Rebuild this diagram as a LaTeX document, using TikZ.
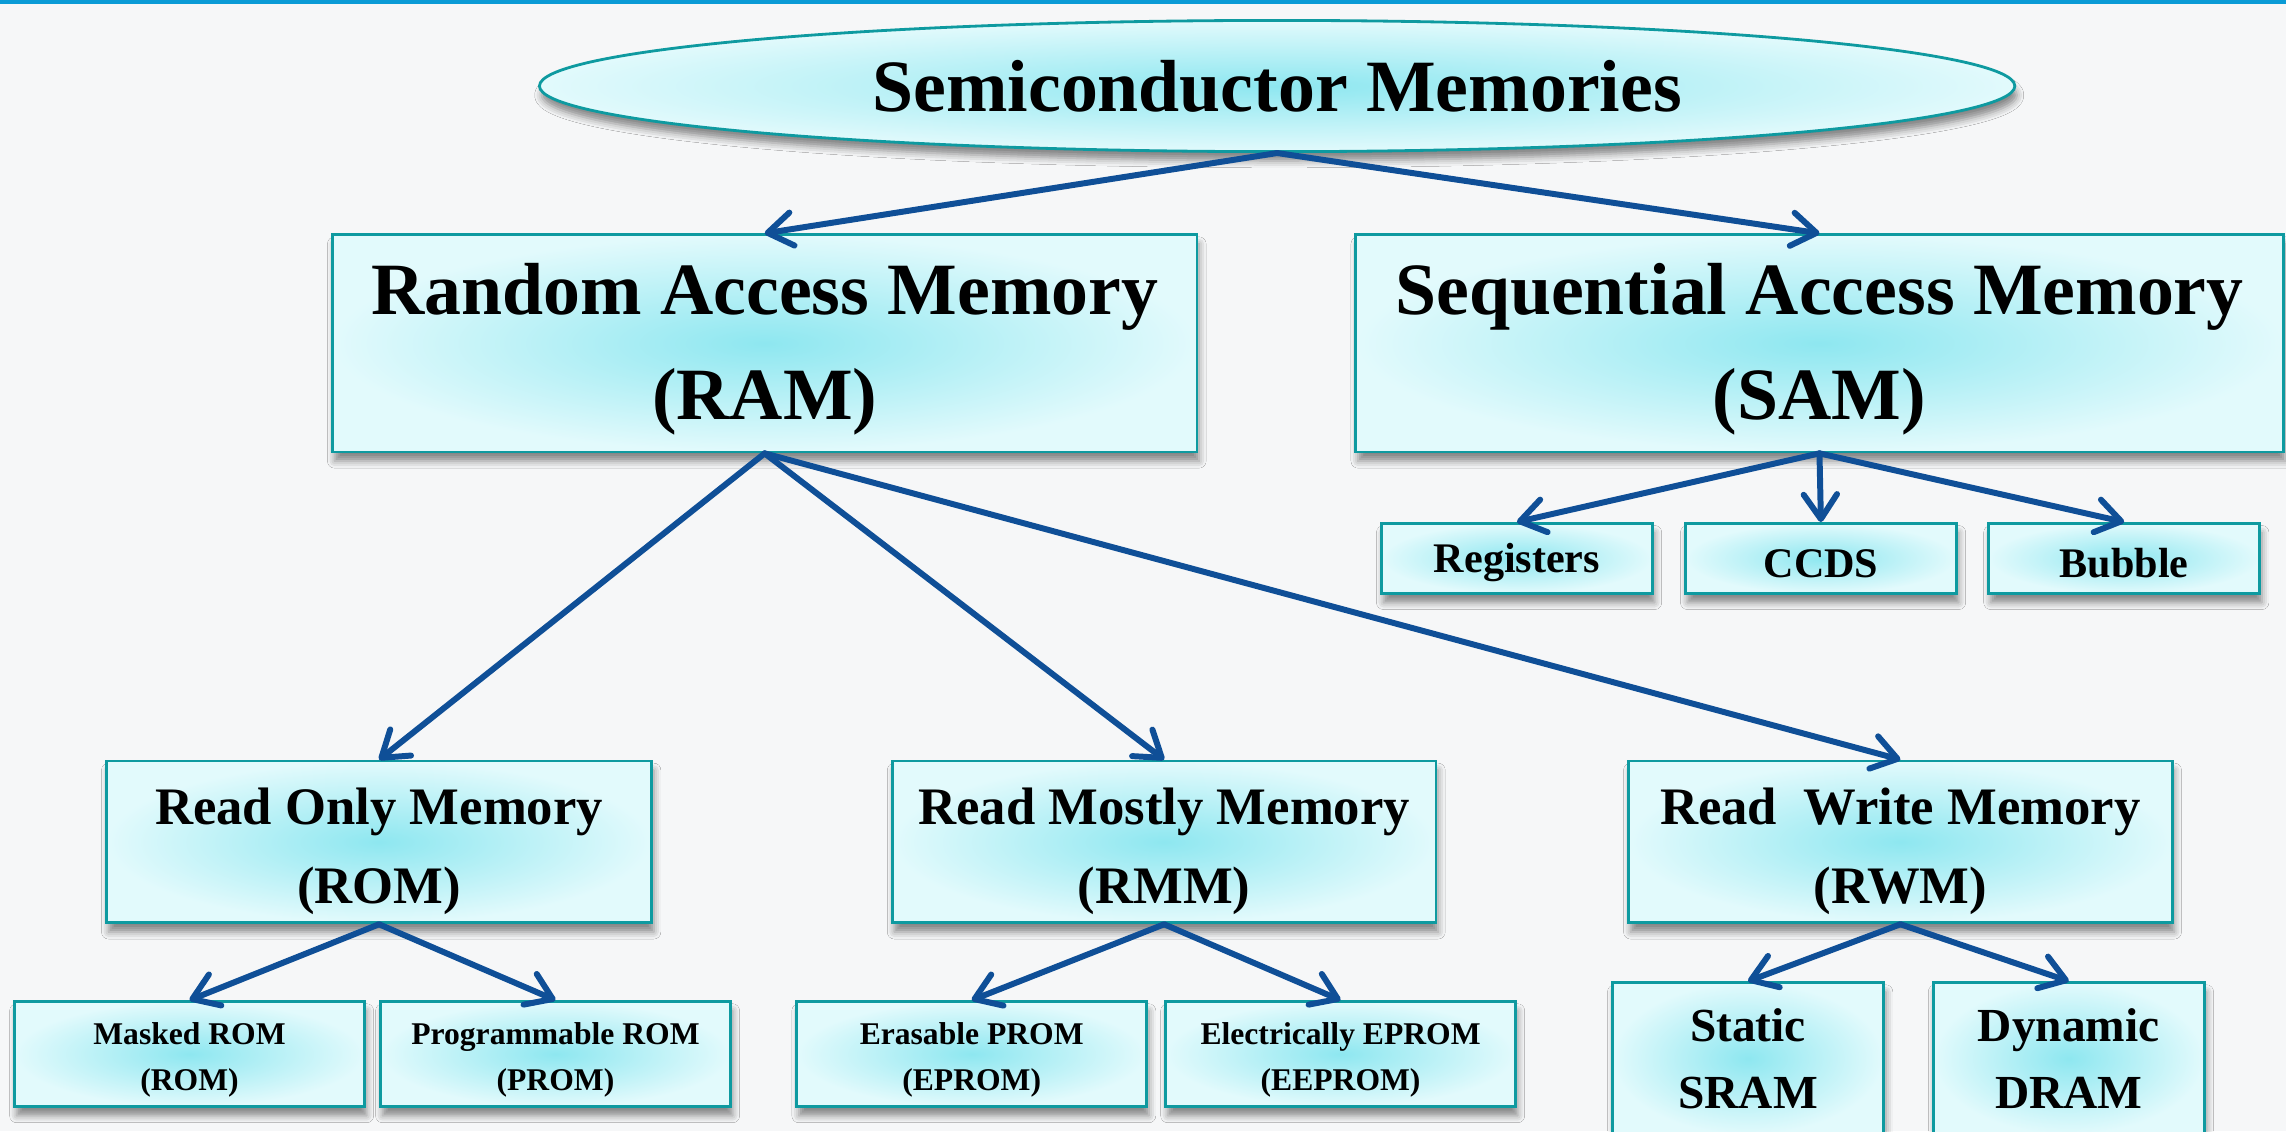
\documentclass[tikz,border=0pt]{standalone}
\usepackage{fontspec}
\setmainfont{Liberation Serif}
\usetikzlibrary{arrows.meta,shapes.geometric,shadows.blur}
\definecolor{barblue}{HTML}{0A9BD6}
\definecolor{paper}{HTML}{F6F7F8}
\definecolor{edgeteal}{HTML}{0E9AA0}
\definecolor{cyanmid}{HTML}{8EE7F0}
\definecolor{cyanrim}{HTML}{E2FAFC}
\definecolor{linkblue}{HTML}{0F4F97}
\def\pxu{0.01458cm}
\tikzset{
  dim/.style 2 args={minimum width=#1*\pxu, minimum height=#2*\pxu},
  membox/.style={draw=edgeteal, line width=0.8pt, inner color=cyanmid,
                 outer color=cyanrim, align=center, inner sep=0pt,
                 blur shadow={shadow xshift=0.6pt, shadow yshift=-2.6pt,
                 shadow blur radius=2pt, shadow opacity=45}},
  memtop/.style={membox, ellipse, font=\fontsize{21}{30}\selectfont\bfseries},
  big/.style={text height=47.8pt, font=\fontsize{21}{30}\selectfont\bfseries},
  mid/.style={text height=38.1pt, font=\fontsize{15}{22.4}\selectfont\bfseries},
  small/.style={text height=10.8pt, font=\fontsize{12}{14}\selectfont\bfseries},
  side/.style={font=\fontsize{13.5}{19}\selectfont\bfseries},
  fine/.style={text height=22.8pt, font=\fontsize{9}{13.2}\selectfont\bfseries},
  arr/.style={-{Straight Barb[round,length=7pt,width=9.5pt]}, draw=linkblue,
              line width=1.7pt, line cap=round, line join=round},
}
\begin{document}
\begin{tikzpicture}[x=\pxu, y=-\pxu]

\clip (0,0) rectangle (1568,776);
\fill[paper] (0,0) rectangle (1568,776);
\fill[barblue] (0,0) rectangle (1568,3);

% top level
\node[memtop, dim={1012}{90}] (semi) at (876,59) {Semiconductor Memories};
\node[membox, big, dim={593}{149}] (ram) at (524.5,235.5)
  {Random Access Memory\\(RAM)};
\node[membox, big, dim={636}{149}] (sam) at (1248,235.5)
  {Sequential Access Memory\\(SAM)};

% sequential access
\foreach \n/\x/\txt in {reg/1040.5/Registers, ccd/1249/CCDS, bub/1457/Bubble}
  \node[membox, small, dim={186}{48}] (\n) at (\x,383) {\txt};

% random access
\node[membox, mid, dim={374}{111}] (rom) at (260,577.5)
  {Read Only Memory\\(ROM)};
\node[membox, mid, dim={373}{111}] (rmm) at (798.5,577.5)
  {Read Mostly Memory\\(RMM)};
\node[membox, mid, dim={373}{111}] (rwm) at (1303.5,577.5)
  {Read\ \ Write Memory\\(RWM)};

\foreach \n/\x/\txt in {mrom/130/{Masked ROM\\(ROM)},
                        prom/381/{Programmable ROM\\(PROM)},
                        eprom/666.5/{Erasable PROM\\(EPROM)},
                        eeprom/919.5/{Electrically EPROM\\(EEPROM)}}
  \node[membox, fine, dim={240}{72}] (\n) at (\x,723) {\txt};

\node[membox, side, dim={186}{104}] (sram) at (1199,726) {Static\\SRAM};
\node[membox, side, dim={186}{104}] (dram) at (1419,726) {Dynamic\\DRAM};

% links
\draw[arr] (semi.south) -- (ram.north);
\draw[arr] (semi.south) -- (sam.north);
\foreach \n in {reg, ccd, bub}
  \draw[arr] (sam.south) -- (\n.north);
\foreach \n in {rom, rmm, rwm}
  \draw[arr] (ram.south) -- (\n.north);
\draw[arr] (rom.south) -- (mrom.north);
\draw[arr] (rom.south) -- (prom.north);
\draw[arr] (rmm.south) -- (eprom.north);
\draw[arr] (rmm.south) -- (eeprom.north);
\draw[arr] (rwm.south) -- (sram.north);
\draw[arr] (rwm.south) -- (dram.north);

\end{tikzpicture}
\end{document}
